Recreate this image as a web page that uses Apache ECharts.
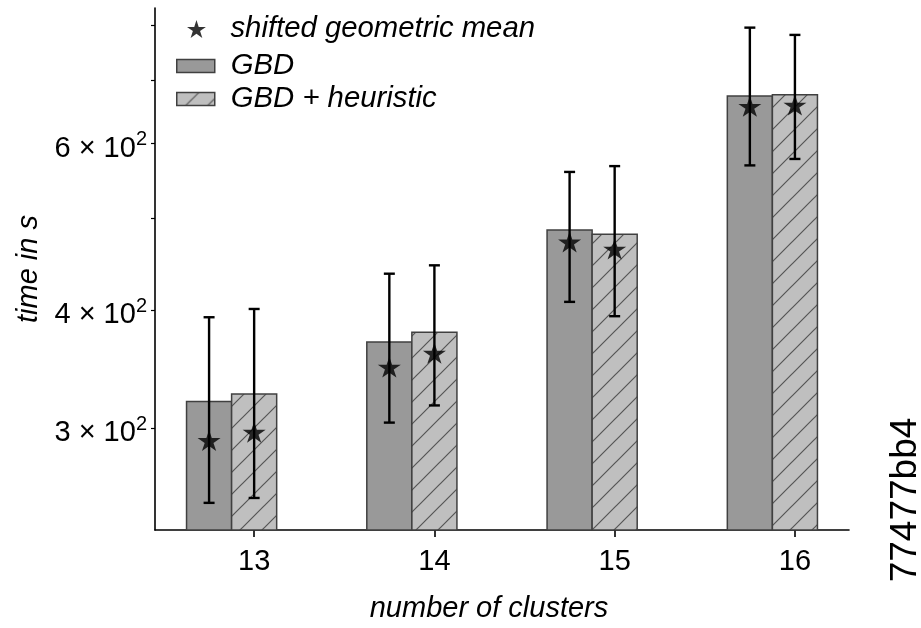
<!DOCTYPE html>
<html>
<head>
<meta charset="utf-8">
<script src="https://cdn.jsdelivr.net/npm/echarts@6/dist/echarts.min.js"></script>
<style>
  html, body { margin: 0; padding: 0; background: #fff; }
  #chart { width: 921px; height: 628px; }
</style>
</head>
<body>
<div id="chart"></div>
<script>
// Runtime in seconds per number of clusters
const clusters  = [13, 14, 15, 16];
const gbdTime   = [320, 370, 486, 674];
const heurTime  = [326, 379, 481, 676];
const gbdMean   = [291, 348, 472, 657];
const heurMean  = [297, 360, 464, 659];
const gbdLow    = [250, 304, 408, 569];
const gbdHigh   = [393, 437, 560, 796];
const heurLow   = [253, 317, 394, 578];
const heurHigh  = [401, 446, 568, 782];
const yTicks      = [300, 400, 500, 600, 700, 800];
const yTickLabels = [300, 400, 600];

const FONT = '"Liberation Sans", Arial, Helvetica, sans-serif';
const FS = 29;
const BAR_W = 0.25;       // bar width in x units
const GBD_SHIFT = -0.25;  // plain GBD bar sits one bar width left of the tick
const X_MIN = 12.45, X_MAX = 16.3;
const Y_MIN = 234, Y_MAX = 835;

// diagonal "//" hatch tile for the heuristic bars
function hatchTile() {
  const s = 22;
  const c = document.createElement('canvas');
  c.width = s; c.height = s;
  const g = c.getContext('2d');
  g.fillStyle = '#bfbfbf';
  g.fillRect(0, 0, s, s);
  g.strokeStyle = '#555555';
  g.lineWidth = 1.2;
  g.beginPath();
  g.moveTo(-2, s + 2); g.lineTo(s + 2, -2);
  g.moveTo(-2, 2); g.lineTo(2, -2);
  g.moveTo(s - 2, s + 2); g.lineTo(s + 2, s - 2);
  g.stroke();
  return c;
}
const hatch = { image: hatchTile(), repeat: 'repeat' };

// five-pointed star marker
function starPath(R) {
  const r = R * 0.381966;
  const pts = [];
  for (let i = 0; i < 10; i++) {
    const a = -Math.PI / 2 + i * Math.PI / 5;
    const rad = i % 2 === 0 ? R : r;
    pts.push((R + rad * Math.cos(a)).toFixed(3) + ' ' + (R + rad * Math.sin(a)).toFixed(3));
  }
  return 'path://M' + pts.join(' L') + ' Z';
}
const STAR = starPath(10);

const gbdX  = clusters.map(c => c + GBD_SHIFT);
const heurX = clusters.slice();

function barRenderer(fill) {
  return function (params, api) {
    const x = api.value(0), v = api.value(1);
    const p0 = api.coord([x - BAR_W / 2, v]);
    const p1 = api.coord([x + BAR_W / 2, Y_MIN]);
    return {
      type: 'rect',
      shape: { x: p0[0], y: p0[1], width: p1[0] - p0[0], height: p1[1] - p0[1] },
      style: { fill: fill, stroke: '#404040', lineWidth: 1.5 }
    };
  };
}

function errorRenderer(params, api) {
  const x = api.value(0);
  const lo = api.coord([x, api.value(1)]);
  const hi = api.coord([x, api.value(2)]);
  const cap = 5.5;
  const st = { stroke: '#000', lineWidth: 2.4 };
  return {
    type: 'group',
    children: [
      { type: 'line', shape: { x1: lo[0], y1: lo[1], x2: hi[0], y2: hi[1] }, style: st },
      { type: 'line', shape: { x1: lo[0] - cap, y1: lo[1], x2: lo[0] + cap, y2: lo[1] }, style: st },
      { type: 'line', shape: { x1: hi[0] - cap, y1: hi[1], x2: hi[0] + cap, y2: hi[1] }, style: st }
    ]
  };
}

const errData = gbdX.map((x, i) => [x, gbdLow[i], gbdHigh[i]])
  .concat(heurX.map((x, i) => [x, heurLow[i], heurHigh[i]]));
const meanData = gbdX.map((x, i) => [x, gbdMean[i]])
  .concat(heurX.map((x, i) => [x, heurMean[i]]));

const legendText = { fontFamily: FONT, fontSize: 29.3, fontStyle: 'italic', color: '#000', lineHeight: 30 };

const chart = echarts.init(document.getElementById('chart'), null, { renderer: 'canvas' });
chart.setOption({
  animation: false,
  backgroundColor: '#fff',
  grid: { left: 155, right: 72, top: 8, bottom: 92, containLabel: false },
  xAxis: {
    type: 'value',
    min: X_MIN, max: X_MAX,
    splitLine: { show: false },
    axisLine: { onZero: false, lineStyle: { color: '#000', width: 1.6 } },
    axisTick: { customValues: clusters, length: 7, lineStyle: { color: '#000', width: 1.6 } },
    axisLabel: { customValues: clusters, fontFamily: FONT, fontSize: FS, color: '#000', margin: 17 },
    name: 'number of clusters',
    nameLocation: 'middle',
    nameGap: 64,
    nameTextStyle: { fontFamily: FONT, fontSize: FS, fontStyle: 'italic', color: '#000', padding: [0, 26, 0, 0] }
  },
  yAxis: {
    type: 'log',
    logBase: 10,
    min: Y_MIN, max: Y_MAX,
    splitLine: { show: false },
    minorTick: { show: false },
    axisLine: { show: true, onZero: false, lineStyle: { color: '#000', width: 1.6 } },
    axisTick: { customValues: yTicks, length: 4, lineStyle: { color: '#000', width: 1.2 } },
    axisLabel: {
      customValues: yTickLabels,
      margin: 8,
      formatter: function (v) {
        const e = Math.floor(Math.log10(v) + 1e-9);
        const m = Math.round(v / Math.pow(10, e));
        return '{m|' + m + ' \u00d7 10}{e|' + e + '}';
      },
      rich: {
        m: { fontFamily: FONT, fontSize: FS, color: '#000', lineHeight: 30, padding: [10, 0, 0, 0] },
        e: { fontFamily: FONT, fontSize: 20, color: '#000', lineHeight: 20, verticalAlign: 'top', padding: [1, 0, 0, 0] }
      }
    },
    name: 'time in s',
    nameLocation: 'middle',
    nameGap: 108,
    nameTextStyle: { fontFamily: FONT, fontSize: FS, fontStyle: 'italic', color: '#000' }
  },
  legend: [
    {
      left: 187, top: 14, padding: 0, orient: 'vertical', selectedMode: false,
      itemWidth: 38, itemHeight: 18,
      textStyle: Object.assign({ padding: [0, 0, 0, 10] }, legendText),
      data: [{ name: 'shifted geometric mean', icon: STAR, itemStyle: { color: '#000' } }]
    },
    {
      left: 176, top: 46.5, padding: 0, orient: 'vertical', selectedMode: false,
      itemWidth: 38, itemHeight: 13,
      textStyle: Object.assign({ padding: [0, 0, 9, 11] }, legendText),
      data: [{ name: 'GBD', icon: 'rect', itemStyle: { color: '#999999', borderColor: '#404040', borderWidth: 1.5 } }]
    },
    {
      left: 176, top: 79.5, padding: 0, orient: 'vertical', selectedMode: false,
      itemWidth: 38, itemHeight: 13,
      textStyle: Object.assign({ padding: [0, 0, 9, 11] }, legendText),
      data: [{ name: 'GBD + heuristic', icon: 'rect', itemStyle: { color: hatch, borderColor: '#404040', borderWidth: 1.5 } }]
    }
  ],
  series: [
    {
      name: 'GBD', type: 'custom', z: 2,
      itemStyle: { color: '#999999' },
      data: gbdX.map((x, i) => [x, gbdTime[i]]),
      encode: { x: 0, y: 1 },
      renderItem: barRenderer('#999999')
    },
    {
      name: 'GBD + heuristic', type: 'custom', z: 2,
      itemStyle: { color: '#bfbfbf' },
      data: heurX.map((x, i) => [x, heurTime[i]]),
      encode: { x: 0, y: 1 },
      renderItem: barRenderer(hatch)
    },
    {
      name: 'spread', type: 'custom', z: 3,
      data: errData,
      encode: { x: 0, y: [1, 2] },
      renderItem: errorRenderer
    },
    {
      name: 'shifted geometric mean', type: 'scatter', z: 4,
      symbol: STAR, symbolSize: [23, 22], symbolKeepAspect: true,
      itemStyle: { color: '#000' },
      data: meanData
    }
  ],
  graphic: [{
    type: 'text',
    x: 906, y: 500,
    rotation: Math.PI / 2,
    style: { text: '77477bb4', fontFamily: FONT, fontSize: 37, fill: '#000', align: 'center', verticalAlign: 'middle' }
  }]
});
</script>
</body>
</html>
